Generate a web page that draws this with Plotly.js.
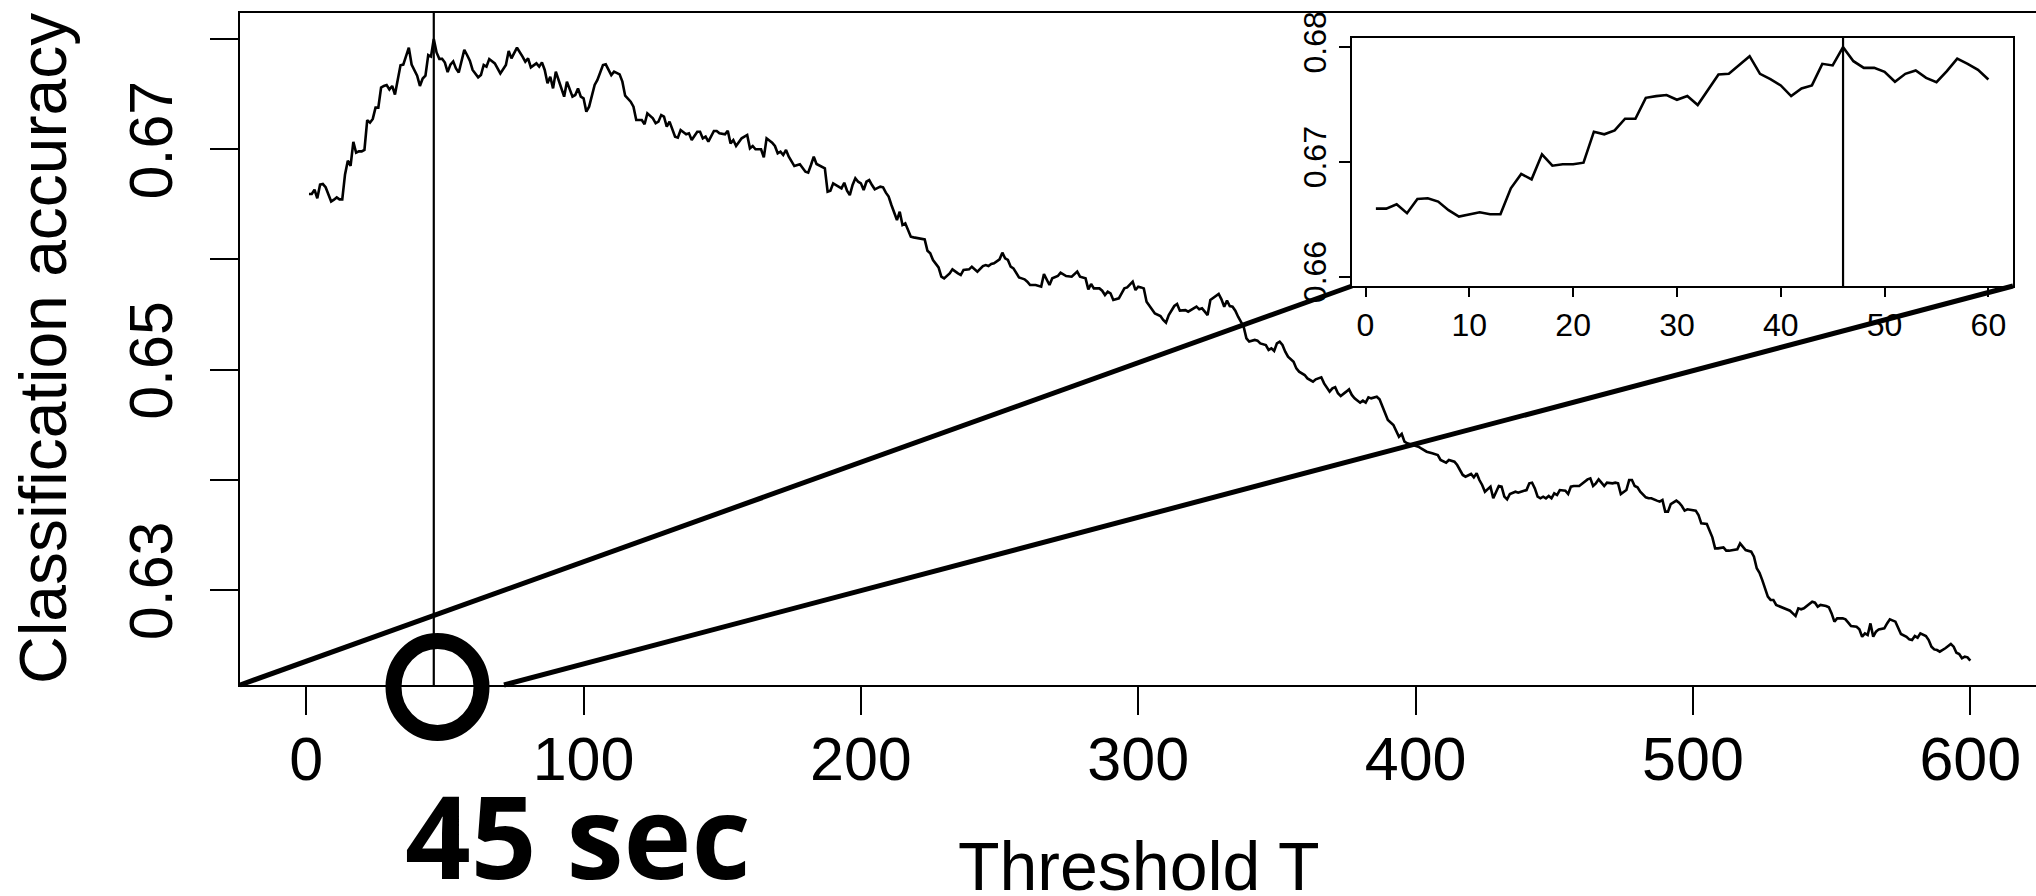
<!DOCTYPE html>
<html><head><meta charset="utf-8">
<script src="https://cdn.plot.ly/plotly-3.0.1.min.js"></script>
<style>html,body{margin:0;padding:0;background:#fff;overflow:hidden}#chart{width:2036px;height:896px}</style>
</head><body><div id="chart"></div>
<script>
// ---- data ----
const thresholdT = [
1,2,3,4,5,6,7,8,9,10,11,12,13,14,15,16,17,18,19,20,21,22,23,24,25,26,27,28,29,30,
31,32,33,34,35,36,37,38,39,40,41,42,43,44,45,46,47,48,49,50,51,52,53,54,55,56,57,58,59,60,
62,63,64,65,66,68,70,72,73,74,76,78,79,80,81,83,84,85,86,87,88,89,90,91,93,94,96,97,98,99,100,
101,102,104,105,107,108,110,111,113,114,115,117,118,119,121,122,123,125,126,127,128,129,130,131,133,134,135,137,138,139,141,142,143,144,145,147,148,149,151,
152,153,154,155,157,159,160,161,162,164,165,166,168,169,170,171,172,173,174,176,178,180,181,182,183,184,186,187,188,189,190,192,193,194,195,196,197,198,199,200,
201,202,203,204,205,207,208,209,210,211,212,213,214,215,216,217,218,219,221,223,224,225,226,227,228,229,230,232,233,235,236,237,239,240,
241,242,244,245,246,247,248,250,251,252,253,254,255,257,258,259,260,261,263,264,265,266,267,268,269,271,272,274,276,277,278,279,281,282,283,284,286,287,288,289,290,291,293,294,295,296,298,299,300,
301,302,303,305,306,308,309,310,311,313,314,315,317,318,319,321,322,323,324,325,326,328,329,330,331,
332,333,334,335,336,337,338,339,340,342,343,344,346,347,348,349,350,351,352,353,354,356,357,358,360,361,363,364,366,367,369,370,371,372,373,375,376,377,378,380,381,382,383,384,386,387,388,389,390,392,393,394,395,396,397,399,401,402,404,406,408,409,411,412,414,415,
417,418,420,421,422,423,424,425,426,427,428,429,430,431,432,433,434,436,437,438,440,441,442,443,444,445,446,447,448,449,450,451,452,454,455,456,457,459,460,462,463,464,465,466,467,468,469,471,472,473,474,476,477,478,479,480,481,483,484,485,487,488,489,490,491,492,494,495,496,497,498,500,501,502,503,505,506,507,508,509,511,
512,513,515,516,517,518,519,521,522,523,524,525,526,527,528,529,530,532,533,535,536,537,538,539,540,542,543,544,545,546,548,549,550,551,552,554,555,556,557,559,560,561,562,563,564,565,566,567,569,570,571,573,574,575,577,578,579,580,581,582,584,585,586,587,588,589,591,593,594,595,596,597,598,599,600
];
const accuracy = [
0.66594,0.66594,0.66632,0.66554,0.66678,0.66684,0.66655,0.6658,0.66525,0.66542,0.66562,0.66545,0.66545,0.66771,0.66896,0.66849,0.67067,0.66968,0.6698,0.6698,
0.66994,0.67264,0.67241,0.67275,0.67377,0.67377,0.67559,0.67574,0.67583,0.67542,0.67574,0.67496,0.67629,0.67762,0.67768,0.67843,0.67922,0.67768,0.67722,0.67667,
0.67574,0.67641,0.67667,0.67855,0.67841,0.68,0.67878,0.6782,0.6782,0.67786,0.67699,0.67768,0.67797,0.67733,0.67696,0.67791,0.67901,0.67855,0.67803,0.67719,
0.67652,0.67673,0.67764,0.67749,0.67818,0.67779,0.67688,0.67764,0.67891,0.67824,0.67921,0.6784,0.67794,0.67824,0.67743,0.67779,0.67749,0.67788,0.67719,0.67598,0.67658,0.67552,0.67704,0.67628,0.67477,0.67613,0.67477,0.67492,0.67552,0.67477,0.67462,
0.67341,0.67386,0.67583,0.67628,0.67764,0.6777,0.67673,0.67704,0.67679,0.67613,0.67486,0.67431,0.67386,0.67265,0.67265,0.67226,0.67325,0.6728,0.67235,0.6725,0.6731,0.67295,0.67204,0.6725,0.67114,0.67105,0.67174,0.67135,0.67144,0.67083,0.67159,0.67159,0.67098,0.67114,0.67068,0.67165,0.67165,0.67144,0.67135,
0.67168,0.67053,0.67083,0.67029,0.67099,0.67129,0.67008,0.67029,0.66999,0.66999,0.66926,0.67099,0.6706,0.67029,0.66963,0.66978,0.66947,0.66993,0.66932,0.66847,0.66863,0.66796,0.66787,0.66857,0.66932,0.66866,0.66841,0.66826,0.66615,0.66624,0.6669,0.6666,0.66645,0.66696,0.66624,0.66584,0.66675,0.66736,0.66705,0.6669,
0.6663,0.66705,0.6672,0.66675,0.66636,0.6666,0.66654,0.66606,0.6657,0.66494,0.66418,0.66357,0.66433,0.66312,0.66327,0.66267,0.66206,0.662,0.66191,0.66182,0.66079,0.66055,0.65994,0.65964,0.65928,0.65843,0.65828,0.65873,0.6591,0.65873,0.65858,0.65904,0.6591,0.65934,
0.6591,0.65889,0.6594,0.65949,0.6594,0.65958,0.65964,0.66001,0.66061,0.6601,0.65995,0.65934,0.65919,0.65837,0.65828,0.65819,0.65798,0.65768,0.65768,0.65759,0.65753,0.65867,0.65819,0.65768,0.65828,0.65849,0.6588,0.65849,0.65843,0.65867,0.65889,0.65843,0.65828,0.65728,0.65777,0.65737,0.65737,0.65716,0.65677,0.65707,0.65692,0.65632,0.65647,0.65692,0.65737,0.65746,0.65798,0.65722,0.65753,
0.65746,0.65737,0.65616,0.6554,0.6551,0.65486,0.6545,0.65426,0.65495,0.65577,0.65595,0.65535,0.6554,0.65526,0.6554,0.65571,0.65547,0.65556,0.65526,0.65495,0.65632,0.65668,0.65686,0.65638,0.65571,
0.65626,0.65577,0.65571,0.65535,0.6548,0.65435,0.6539,0.65284,0.65254,0.65269,0.65263,0.65238,0.65223,0.65178,0.65193,0.65169,0.65238,0.65254,0.65223,0.65163,0.65117,0.65072,0.65011,0.64981,0.64951,0.6492,0.6489,0.64912,0.6493,0.64875,0.648,0.6483,0.6484,0.64785,0.64761,0.648,0.64821,0.6477,0.6474,0.647,0.64718,0.647,0.64748,0.64739,0.64754,0.6473,0.64664,0.64603,0.64543,0.64497,0.64437,0.64391,0.64416,0.64346,0.64331,0.64316,0.64301,0.64285,0.64255,0.6424,0.64225,0.6418,0.64155,0.6418,0.64164,0.64134,
0.64044,0.64028,0.64053,0.64022,0.64059,0.63998,0.63953,0.63892,0.63913,0.63938,0.63832,0.63892,0.63944,0.63938,0.63847,0.63823,0.63871,0.63892,0.63883,0.63892,0.63907,0.63968,0.63974,0.63922,0.63847,0.63832,0.63847,0.63832,0.63853,0.63832,0.63877,0.63862,0.63907,0.63901,0.63871,0.63938,0.63944,0.63944,0.63962,0.64004,0.64013,0.63944,0.63968,0.64004,0.63974,0.63944,0.63974,0.63968,0.63974,0.63968,0.63871,0.63907,0.63998,0.63998,0.63944,0.63932,0.63892,0.63841,0.63832,0.63832,0.63811,0.63802,0.63817,0.63711,0.63711,0.6378,0.63811,0.63792,0.63762,0.6372,0.63732,0.63726,0.6372,0.63681,0.63605,0.63599,0.63544,0.63478,0.63378,0.63378,0.63387,
0.63357,0.63357,0.63363,0.63369,0.63423,0.63393,0.63363,0.63348,0.63302,0.63197,0.63157,0.6309,0.63006,0.6294,0.6291,0.6291,0.62864,0.62843,0.62834,0.62812,0.62788,0.62764,0.62834,0.62825,0.62834,0.62879,0.62894,0.62885,0.62849,0.62864,0.62855,0.62843,0.62788,0.62713,0.62743,0.62743,0.62734,0.62704,0.62673,0.62667,0.62643,0.62576,0.62607,0.62592,0.62697,0.62576,0.62622,0.62643,0.62652,0.62697,0.62734,0.62713,0.62652,0.62601,0.62576,0.62552,0.62546,0.62582,0.62567,0.62607,0.62582,0.62546,0.62486,0.62461,0.62455,0.6244,0.62471,0.6251,0.62486,0.62431,0.62419,0.6238,0.62395,0.62389,0.62359
];
const insetCount = 60;          // inset shows T = 1..60
const bestT = 46;               // marked threshold
const xTickVals = [0,100,200,300,400,500,600];
const xTickText = ['0','100','200','300','400','500','600'];
const yTickVals = [0.63,0.64,0.65,0.66,0.67,0.68];
const yTickText = ['0.63','','0.65','','0.67',''];
const insetXTickVals = [0,10,20,30,40,50,60];
const insetXTickText = ['0','10','20','30','40','50','60'];
const insetYTickVals = [0.66,0.67,0.68];
const insetYTickText = ['0.66','0.67','0.68'];
const xTitle = 'Threshold T';
const yTitle = 'Classification accuracy';
const calloutText = '45 sec';

// ---- layout geometry (pixels) ----
const W = 2036, H = 896, ML = 240, MR = 0, MT = 13, MB = 211;
const PW = W - ML - MR, PH = H - MT - MB;
const pxX = p => (p - ML) / PW;
const pxY = p => 1 - (p - MT) / PH;
const insetDomX = [pxX(1352), pxX(2013)];
const insetDomY = [pxY(286), pxY(38)];
const FONT = 'Liberation Sans, Arial, Helvetica, sans-serif';
const axisCommon = {showgrid:false, zeroline:false, showline:true, linecolor:'#000', linewidth:2.2,
  ticks:'outside', tickcolor:'#000', tickwidth:2, fixedrange:true};

const traces = [
  {x: thresholdT, y: accuracy, type:'scatter', mode:'lines', xaxis:'x', yaxis:'y',
   line:{color:'#000', width:2.6}, hoverinfo:'skip'},
  {x: thresholdT.slice(0, insetCount), y: accuracy.slice(0, insetCount), type:'scatter', mode:'lines',
   xaxis:'x2', yaxis:'y2', line:{color:'#000', width:2.6}, hoverinfo:'skip'}
];

const layout = {
  width: W, height: H, margin:{l:ML, r:MR, t:MT, b:MB, pad:0},
  paper_bgcolor:'#fff', plot_bgcolor:'rgba(0,0,0,0)', showlegend:false,
  font:{family:FONT, color:'#000'},
  xaxis: Object.assign({}, axisCommon, {domain:[0,1], anchor:'y', range:[-23.87, 623.69],
    tickmode:'array', tickvals:xTickVals, ticktext:xTickText, ticklen:28, mirror:true,
    tickfont:{family:FONT, size:61, color:'#000'}, ticklabelstandoff:-8}),
  yaxis: Object.assign({}, axisCommon, {domain:[0,1], anchor:'x', range:[0.62138, 0.68236],
    tickmode:'array', tickvals:yTickVals, ticktext:yTickText, ticklen:28, tickangle:-90,
    tickfont:{family:FONT, size:61, color:'#000'}, ticklabelstandoff:13}),
  xaxis2: Object.assign({}, axisCommon, {domain:insetDomX, anchor:'y2', range:[-1.3, 62.37],
    tickmode:'array', tickvals:insetXTickVals, ticktext:insetXTickText, ticklen:9, mirror:true,
    tickfont:{family:FONT, size:32, color:'#000'}}),
  yaxis2: Object.assign({}, axisCommon, {domain:insetDomY, anchor:'x2', range:[0.6592, 0.6808],
    tickmode:'array', tickvals:insetYTickVals, ticktext:insetYTickText, ticklen:11, mirror:true, tickangle:-90,
    tickfont:{family:FONT, size:32, color:'#000'}}),
  shapes: [
    {type:'line', xref:'x', yref:'y domain', x0:bestT, x1:bestT, y0:0, y1:1, line:{color:'#000', width:2.2}},
    {type:'line', xref:'x2', yref:'y2 domain', x0:bestT, x1:bestT, y0:0, y1:1, line:{color:'#000', width:2.2}},
    {type:'line', xref:'paper', yref:'paper', x0:0, y0:0, x1:insetDomX[0], y1:insetDomY[0], line:{color:'#000', width:5}},
    {type:'line', xref:'paper', yref:'paper', x0:pxX(504), y0:0, x1:insetDomX[1], y1:insetDomY[0], line:{color:'#000', width:5}},
    {type:'circle', xref:'paper', yref:'paper', x0:pxX(437.5-44), x1:pxX(437.5+44), y0:pxY(687+46), y1:pxY(687-46),
     line:{color:'#000', width:16}, fillcolor:'rgba(0,0,0,0)'}
  ],
  annotations: [
    {text:yTitle, xref:'paper', yref:'paper', x:pxX(43), y:pxY(349), textangle:-90, showarrow:false,
     xanchor:'center', yanchor:'middle', font:{family:FONT, size:66, color:'#000'}},
    {text:xTitle, xref:'paper', yref:'paper', x:pxX(1139), y:pxY(866), showarrow:false,
     xanchor:'center', yanchor:'middle', font:{family:FONT, size:68, color:'#000'}},
    {text:calloutText, xref:'paper', yref:'paper', x:pxX(578), y:pxY(834), showarrow:false,
     xanchor:'center', yanchor:'middle', font:{family:'Open Sans, Noto Sans, sans-serif', size:115, weight:700, color:'#000'}}
  ]
};

Plotly.newPlot('chart', traces, layout, {staticPlot:true, displayModeBar:false});
</script>
</body></html>
